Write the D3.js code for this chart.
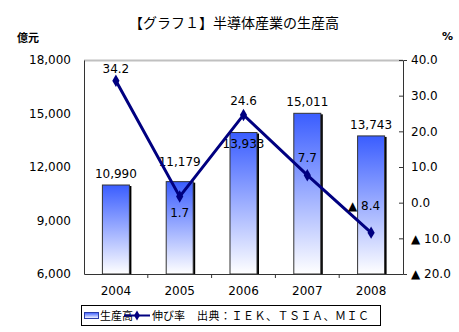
<!DOCTYPE html>
<html><head><meta charset="utf-8">
<script src="https://cdn.jsdelivr.net/npm/d3@7"></script>
<style>body{margin:0;background:#fff;}svg{display:block;font-family:"DejaVu Sans",sans-serif;}</style>
</head><body><svg id="c" width="459" height="332"></svg>
<script>
const years = ["2004","2005","2006","2007","2008"];
const production = [10990, 11179, 13933, 15011, 13743];
const growth = [34.2, 1.7, 24.6, 7.7, -8.4];
const leftTicks = [6000, 9000, 12000, 15000, 18000];
const rightTicks = [-20, -10, 0, 10, 20, 30, 40];

const svg = d3.select("#c");
const L = 84, R = 403, T = 60, B = 274;
const x = d3.scaleBand().domain(years).range([L, R]);
const yL = d3.scaleLinear().domain([6000, 18000]).range([B, T]);
const yR = d3.scaleLinear().domain([-20, 40]).range([B, T]);
const fmtN = d3.format(",");
const fmtP = v => (v < 0 ? "▲ " : "") + Math.abs(v).toFixed(1);

const defs = svg.append("defs");
const g = defs.append("linearGradient").attr("id","bg").attr("x1",0).attr("y1",0).attr("x2",0).attr("y2",1);
g.append("stop").attr("offset","0%").attr("stop-color","#3a5dff");
g.append("stop").attr("offset","100%").attr("stop-color","#ffffff");

// title
svg.append("text").attr("x",234).attr("y",28).attr("text-anchor","middle")
  .style("font-family","'Noto Sans CJK JP',sans-serif").style("font-size","14px")
  .text("【グラフ１】半導体産業の生産高");
svg.append("text").attr("x",17).attr("y",42).style("font-family","'Noto Sans CJK JP',sans-serif")
  .style("font-size","11px").style("font-weight","bold").text("億元");
svg.append("text").attr("x",442).attr("y",40).style("font-size","11px").style("font-weight","bold").text("%");

// plot frame top
svg.append("line").attr("x1",L).attr("x2",R).attr("y1",T+0.5).attr("y2",T+0.5).attr("stroke","#c0c0c0").attr("stroke-width",2);

// bars
const bw = 27;
years.forEach((yr,i)=>{
  const cx = x(yr) + x.bandwidth()/2;
  const top = yL(production[i]);
  svg.append("rect").attr("x",cx-bw/2+2).attr("y",top+1).attr("width",bw).attr("height",B-top-1).attr("fill","#000");
  svg.append("rect").attr("x",cx-bw/2).attr("y",top).attr("width",bw).attr("height",B-top)
    .attr("fill","url(#bg)").attr("stroke","#333").attr("stroke-width",1);
});

// axes
const axL = svg.append("g").attr("transform",`translate(${L},0)`)
  .call(d3.axisLeft(yL).tickValues(leftTicks).tickFormat(fmtN).tickSize(0).tickPadding(13));
const axR = svg.append("g").attr("transform",`translate(${R},0)`)
  .call(d3.axisRight(yR).tickValues(rightTicks).tickFormat(fmtP).tickSize(4).tickPadding(6));
const axB = svg.append("g").attr("transform",`translate(0,${B})`)
  .call(d3.axisBottom(x).tickSize(0).tickPadding(12));
[axL,axR,axB].forEach(a=>{
  a.selectAll("text").style("font-size","12px").attr("fill","#000").style("font-family","'DejaVu Sans',sans-serif");
  a.select(".domain").attr("stroke","#333");
  a.selectAll(".tick line").attr("stroke","#333");
});
axR.selectAll(".tick line").attr("x2",-4);
axR.selectAll(".tick text").attr("x",8);
// category separator ticks
svg.append("g").selectAll("line").data(years.slice(1)).join("line")
  .attr("x1",d=>x(d)).attr("x2",d=>x(d)).attr("y1",B).attr("y2",B+4).attr("stroke","#333");

// bar labels
const barLabelDy = [-7, -16, 15, -7, -7];
years.forEach((yr,i)=>{
  svg.append("text").attr("x",x(yr)+x.bandwidth()/2).attr("y",yL(production[i])+barLabelDy[i])
    .attr("text-anchor","middle").style("font-size","12px").text(fmtN(production[i]));
});

// line
const pts = years.map((yr,i)=>[x(yr)+x.bandwidth()/2, yR(growth[i])]);
svg.append("path").attr("d",d3.line()(pts)).attr("fill","none").attr("stroke","#000080").attr("stroke-width",3);
svg.selectAll(".mk").data(pts).join("path").attr("class","mk")
  .attr("transform",d=>`translate(${d[0]},${d[1]})`)
  .attr("d",d3.symbol(d3.symbolDiamond,45)()).attr("fill","#000080");

// line labels
const lblOff = [[0,-8],[0,20],[0,-10],[0,-13],[-7,-23]];
growth.forEach((v,i)=>{
  svg.append("text").attr("x",pts[i][0]+lblOff[i][0]).attr("y",pts[i][1]+lblOff[i][1])
    .attr("text-anchor","middle").style("font-size","12px").text(fmtP(v));
});

// legend
const lg = svg.append("g");
lg.append("rect").attr("x",81.5).attr("y",305.5).attr("width",299).attr("height",20).attr("fill","#fff").attr("stroke","#000");
const lgr = defs.append("linearGradient").attr("id","lg").attr("x1",0).attr("y1",0).attr("x2",0).attr("y2",1);
lgr.append("stop").attr("offset","0%").attr("stop-color","#3a5dff");
lgr.append("stop").attr("offset","100%").attr("stop-color","#ffffff");
lg.append("rect").attr("x",84.5).attr("y",312.5).attr("width",14).attr("height",6).attr("fill","url(#lg)").attr("stroke","#2a3caa");
const jf = "'Noto Sans CJK JP',sans-serif";
lg.append("text").attr("x",100).attr("y",320).style("font-family",jf).style("font-size","11px").text("生産高");
lg.append("line").attr("x1",124).attr("x2",150).attr("y1",315.5).attr("y2",315.5).attr("stroke","#000080").attr("stroke-width",2);
lg.append("path").attr("transform","translate(137,315.5)").attr("d",d3.symbol(d3.symbolDiamond,30)()).attr("fill","#000080");
lg.append("text").attr("x",152).attr("y",320).style("font-family",jf).style("font-size","11px").text("伸び率");
lg.append("text").attr("x",197).attr("y",320).style("font-family",jf).style("font-size","11px").style("letter-spacing","0.5px").text("出典：ＩＥＫ、ＴＳＩＡ、ＭＩＣ");
</script></body></html>
